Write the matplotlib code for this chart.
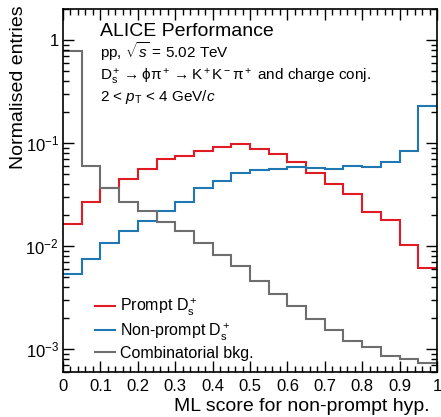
import numpy as np
import matplotlib
matplotlib.use('Agg')
import matplotlib.pyplot as plt
from matplotlib.ticker import MultipleLocator, LogLocator, NullFormatter

plt.rcParams['font.family'] = ['Liberation Sans', 'DejaVu Sans']
plt.rcParams['mathtext.fontset'] = 'custom'
plt.rcParams['mathtext.rm'] = 'Liberation Sans'
plt.rcParams['mathtext.it'] = 'Liberation Sans:italic'
plt.rcParams['mathtext.bf'] = 'Liberation Sans:bold'

# 20 bins of ML score, 0..1
bin_edges = np.linspace(0, 1, 21)

prompt = [0.0165, 0.0266, 0.0363, 0.0446, 0.0565, 0.0694, 0.0747, 0.0834, 0.0912, 0.0980,
          0.0885, 0.0787, 0.0654, 0.0509, 0.0399, 0.0320, 0.0216, 0.0181, 0.0102, 0.0062]
nonprompt = [0.00536, 0.00758, 0.0108, 0.0140, 0.0177, 0.0218, 0.0266, 0.0363, 0.0430, 0.0509,
             0.0544, 0.0565, 0.0585, 0.0578, 0.0565, 0.0598, 0.0585, 0.0654, 0.0847, 0.229]
combinatorial = [0.79, 0.0598, 0.0363, 0.0266, 0.0218, 0.0171, 0.0140, 0.0108, 0.00828, 0.00645,
                 0.00463, 0.00342, 0.0026, 0.00194, 0.00153, 0.00119, 0.00106, 0.00086, 0.0008, 0.00074]

labels = [r'Prompt $\mathrm{D_s^+}$', r'Non-prompt $\mathrm{D_s^+}$', 'Combinatorial bkg.']
colors = ['#e01b24', '#1f77b4', '#6e6e6e']

xticks = [0, 0.1, 0.2, 0.3, 0.4, 0.5, 0.6, 0.7, 0.8, 0.9, 1]
xticklabels = ['0', '0.1', '0.2', '0.3', '0.4', '0.5', '0.6', '0.7', '0.8', '0.9', '1']
yticks = [1e-3, 1e-2, 1e-1, 1]
yticklabels = [r'$10^{-3}$', r'$10^{-2}$', r'$10^{-1}$', '1']

fig = plt.figure(figsize=(4.41, 4.17), dpi=100)
ax = fig.add_axes([0.1429, 0.108, 0.848, 0.870])

for vals, col, lab in zip([prompt, nonprompt, combinatorial], colors, labels):
    ax.stairs(vals, bin_edges, baseline=None, color=col, lw=1.5, label=lab)

ax.set_yscale('log')
ax.set_xlim(0, 1)
ax.set_ylim(6e-4, 2)

ax.set_xticks(xticks)
ax.set_xticklabels(xticklabels)
ax.xaxis.set_minor_locator(MultipleLocator(0.02))
ax.set_yticks(yticks)
ax.set_yticklabels(yticklabels)
ax.yaxis.set_minor_locator(LogLocator(base=10, subs=np.arange(2, 10)))
ax.yaxis.set_minor_formatter(NullFormatter())

ax.tick_params(which='both', direction='in', top=True, right=True, width=1)
ax.tick_params(which='major', length=8)
ax.tick_params(which='minor', length=4.5)
ax.tick_params(axis='x', labelsize=12, pad=5)
ax.tick_params(axis='y', labelsize=12, pad=3)
for sp in ax.spines.values():
    sp.set_linewidth(1.2)

ax.set_xlabel('ML score for non-prompt hyp.', fontsize=14, loc='right')
ax.xaxis.set_label_coords(0.981, -0.072)
ax.set_ylabel('Normalised entries', fontsize=14, loc='top')
ax.yaxis.set_label_coords(-0.095, 1.011)

ax.text(0.099, 0.926, 'ALICE Performance', transform=ax.transAxes, fontsize=14, va='baseline')
ax.text(0.099, 0.865, r'pp, $\sqrt{s}$ = 5.02 TeV', transform=ax.transAxes, fontsize=11, va='baseline')
ax.text(0.099, 0.802, r'$\mathrm{D_s^+ \rightarrow \phi\pi^+ \rightarrow K^+K^-\pi^+}$ and charge conj.',
        transform=ax.transAxes, fontsize=11, va='baseline')
ax.text(0.099, 0.746, r'2 < $p_\mathrm{T}$ < 4 GeV/$c$', transform=ax.transAxes, fontsize=11, va='baseline')

ax.legend(loc='lower left', bbox_to_anchor=(0.055, 0.0), frameon=False, fontsize=11.5,
          handlelength=1.25, handletextpad=0.3, labelspacing=0.2, borderaxespad=0.3)

fig.savefig('out.png', dpi=100)
